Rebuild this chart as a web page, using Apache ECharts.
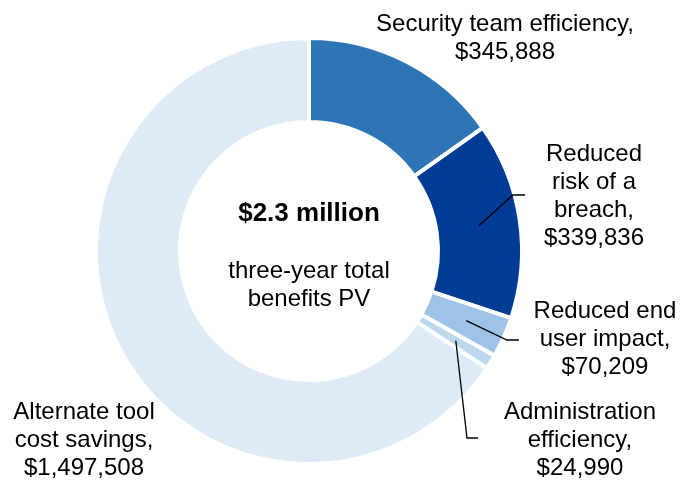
<!DOCTYPE html>
<html>
<head>
<meta charset="utf-8">
<title>Three-year total benefits PV</title>
<script src="https://cdn.jsdelivr.net/npm/echarts@6/dist/echarts.min.js"></script>
<style>
  html, body { margin: 0; padding: 0; background: #fff; }
  #main { width: 691px; height: 485px; }
</style>
</head>
<body>
<div id="main"></div>
<script>
// benefit categories (line breaks as in the labels) and their PV values
var categories = [
  'Security team efficiency',
  'Reduced\nrisk of a\nbreach',
  'Reduced end\nuser impact',
  'Administration\nefficiency',
  'Alternate tool\ncost savings'
];
var values = [345888, 339836, 70209, 24990, 1497508];
var colors = ['#2e75b6', '#003c96', '#9dc3e6', '#bdd7ee', '#deebf7'];
var totalText = '$2.3 million';
var subText = 'three-year total\nbenefits PV';

// layout bits
var cx = 309, cy = 251;
var font = 'Arial, "Liberation Sans", sans-serif';
// label centre positions
var labelPos = [[505, 38], [594, 196], [605, 339], [580, 440], [84, 440]];
// leader line elbow + end (null = no line)
var leaderPts = [
  null,
  [[513, 195], [525, 195]],
  [[507, 340], [519, 340]],
  [[467, 438], [478, 438]],
  null
];

var total = values.reduce(function (a, b) { return a + b; }, 0);

// start of each leader line: middle of the slice, mid radius
function sliceMid(i) {
  var before = 0;
  for (var k = 0; k < i; k++) before += values[k];
  var ang = (90 - 360 * (before + values[i] / 2) / total) * Math.PI / 180;
  var r = 172;
  return [cx + r * Math.cos(ang), cy - r * Math.sin(ang)];
}

// leader lines have to sit on top of the slices
var leaders = [];
leaderPts.forEach(function (pts, i) {
  if (!pts) return;
  leaders.push({
    type: 'polyline',
    z: 100,
    silent: true,
    shape: { points: [sliceMid(i), pts[0], pts[1]] },
    style: { stroke: '#000', lineWidth: 1.3, fill: null }
  });
});

var chart = echarts.init(document.getElementById('main'));

chart.setOption({
  animation: false,
  graphic: [
    {
      type: 'text', x: cx, y: 214,
      style: { text: totalText, font: 'bold 26px ' + font, fill: '#000', textAlign: 'center', textVerticalAlign: 'middle' }
    },
    {
      type: 'text', x: cx, y: 285,
      style: { text: subText, font: '24px ' + font, lineHeight: 28, fill: '#000', textAlign: 'center', textVerticalAlign: 'middle' }
    }
  ].concat(leaders),
  series: [
    {
      type: 'pie',
      center: [cx, cy],
      radius: [129, 213],
      startAngle: 90,
      clockwise: true,
      avoidLabelOverlap: false,
      silent: true,
      itemStyle: { borderColor: '#fff', borderWidth: 4 },
      label: {
        show: true,
        position: 'outside',
        color: '#000',
        fontFamily: font,
        fontSize: 24,
        lineHeight: 28,
        formatter: function (p) {
          return p.name + ',\n$' + p.value.toLocaleString('en-US');
        }
      },
      labelLine: { show: false },
      labelLayout: function (p) {
        var i = p.dataIndex;
        return { x: labelPos[i][0], y: labelPos[i][1], align: 'center', verticalAlign: 'middle' };
      },
      emphasis: { disabled: true },
      data: values.map(function (v, i) {
        return { name: categories[i], value: v, itemStyle: { color: colors[i] } };
      })
    }
  ]
});
</script>
</body>
</html>
